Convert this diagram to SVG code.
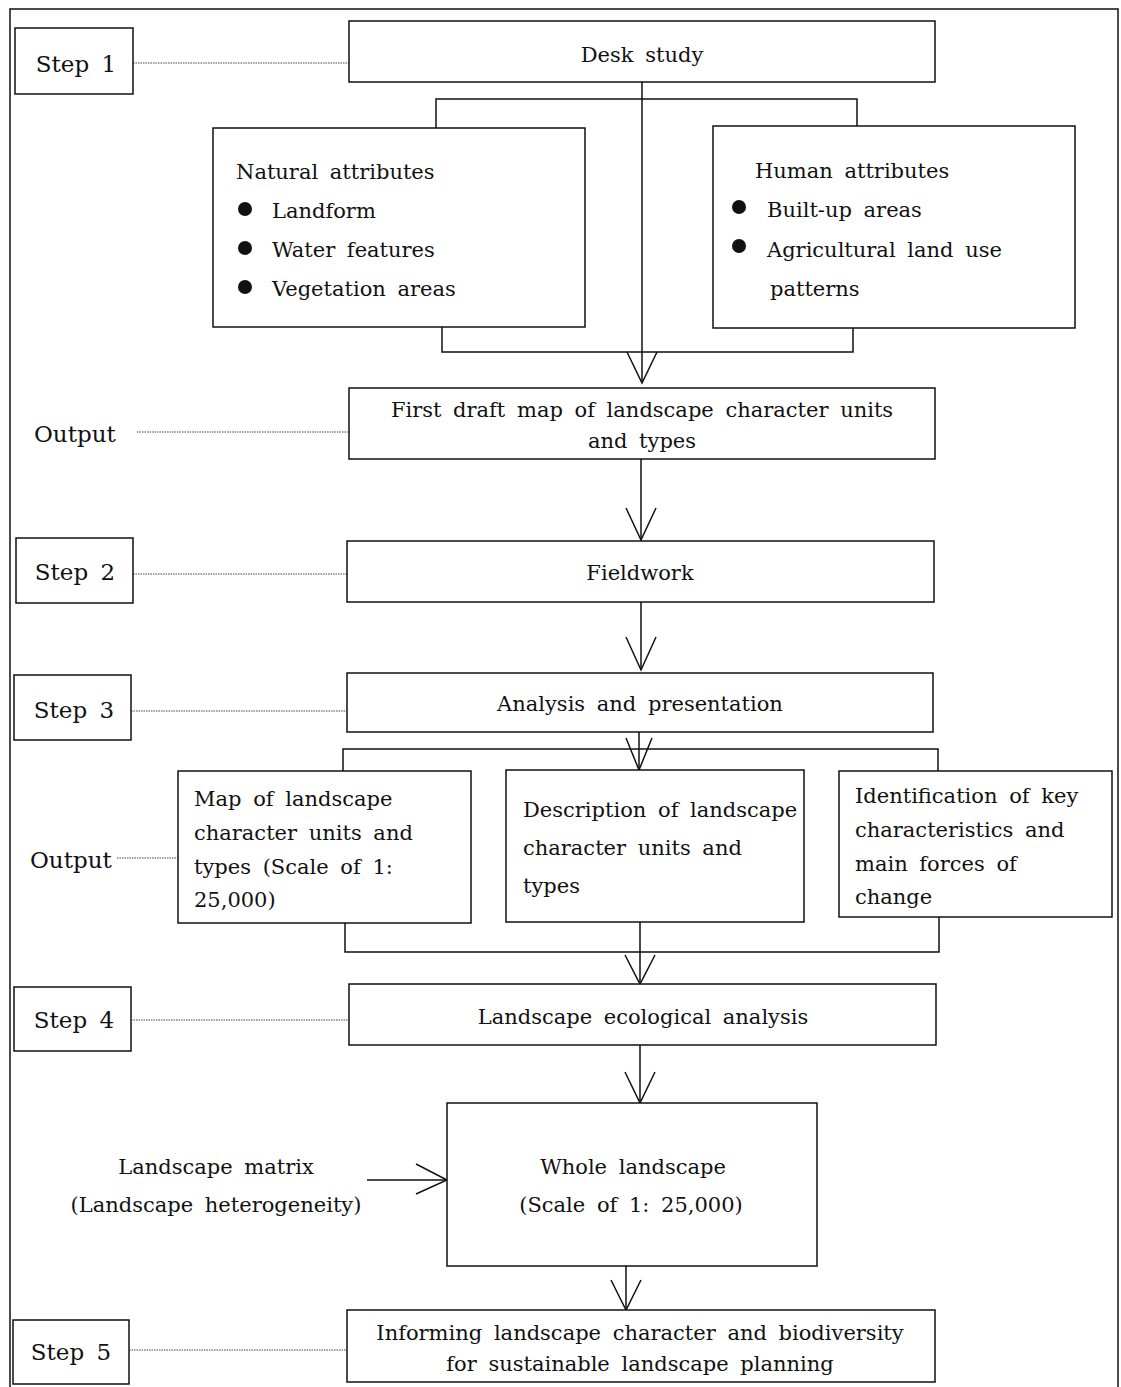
<svg xmlns="http://www.w3.org/2000/svg" width="1121" height="1387" viewBox="0 0 1121 1387">
<style>
text{font-family:"DejaVu Serif","Liberation Serif",serif;font-size:21px;fill:#111;word-spacing:5px}
.lbl{font-size:23px}
.c{text-anchor:middle}
.box{fill:#fff;stroke:#111;stroke-width:1.5}
.ln{fill:none;stroke:#111;stroke-width:1.5}
.dot{fill:none;stroke:#444;stroke-width:1;stroke-dasharray:1.5 1}
</style>
<rect width="1121" height="1387" fill="#fff"/>
<path class="ln" d="M10 1390 V9 H1118 V1390"/>
<g id="connectors">
<line class="dot" x1="133" y1="63" x2="349" y2="63"/>
<line class="dot" x1="137" y1="432" x2="349" y2="432"/>
<line class="dot" x1="133" y1="574" x2="347" y2="574"/>
<line class="dot" x1="131" y1="711" x2="347" y2="711"/>
<line class="dot" x1="117" y1="858" x2="178" y2="858"/>
<line class="dot" x1="131" y1="1020" x2="349" y2="1020"/>
<line class="dot" x1="129" y1="1350" x2="347" y2="1350"/>
<path class="ln" d="M642 82 V383"/>
<path class="ln" d="M436 128 V99 H857 V126"/>
<path class="ln" d="M442 327 V352 H853 V328"/>
<polyline class="ln" points="627,352 642,383 657,352"/>
<path class="ln" d="M641 459 V540"/>
<polyline class="ln" points="626,508 641,540 656,508"/>
<path class="ln" d="M641 602 V670"/>
<polyline class="ln" points="626,637 641,670 656,637"/>
<path class="ln" d="M639 732 V770"/>
<polyline class="ln" points="626,738 639,770 652,738"/>
<path class="ln" d="M343 771 V749 H938 V771"/>
<path class="ln" d="M345 923 V952 H939 V917"/>
<path class="ln" d="M640 922 V984"/>
<polyline class="ln" points="625,955 640,984 655,955"/>
<path class="ln" d="M640 1045 V1103"/>
<polyline class="ln" points="625,1072 640,1103 655,1072"/>
<path class="ln" d="M367 1180 H447"/>
<polyline class="ln" points="416,1164 447,1180 416,1194"/>
<path class="ln" d="M626 1266 V1310"/>
<polyline class="ln" points="611,1280 626,1310 641,1280"/>
</g>
<g id="step1"><rect class="box" x="15" y="28" width="118" height="66"/><text class="lbl c" x="76" y="72">Step 1</text></g>
<g id="desk"><rect class="box" x="349" y="21" width="586" height="61"/><text class="c" x="642" y="62">Desk study</text></g>
<g id="natural"><rect class="box" x="213" y="128" width="372" height="199"/>
<text x="236" y="179">Natural attributes</text>
<circle cx="245" cy="209" r="7" fill="#111"/><text x="272" y="218">Landform</text>
<circle cx="245" cy="248" r="7" fill="#111"/><text x="272" y="257">Water features</text>
<circle cx="245" cy="287" r="7" fill="#111"/><text x="272" y="296">Vegetation areas</text></g>
<g id="human"><rect class="box" x="713" y="126" width="362" height="202"/>
<text x="755" y="178">Human attributes</text>
<circle cx="739" cy="207" r="7" fill="#111"/><text x="767" y="217">Built-up areas</text>
<circle cx="739" cy="246" r="7" fill="#111"/><text x="767" y="257">Agricultural land use</text>
<text x="770" y="296">patterns</text></g>
<g id="output1"><text class="lbl" x="34" y="442">Output</text></g>
<g id="draft"><rect class="box" x="349" y="388" width="586" height="71"/>
<text class="c" x="642" y="417">First draft map of landscape character units</text>
<text class="c" x="642" y="448">and types</text></g>
<g id="step2"><rect class="box" x="16" y="538" width="117" height="65"/><text class="lbl c" x="75" y="580">Step 2</text></g>
<g id="fieldwork"><rect class="box" x="347" y="541" width="587" height="61"/><text class="c" x="640" y="580">Fieldwork</text></g>
<g id="step3"><rect class="box" x="14" y="675" width="117" height="65"/><text class="lbl c" x="74" y="718">Step 3</text></g>
<g id="analysis"><rect class="box" x="347" y="673" width="586" height="59"/><text class="c" x="640" y="711">Analysis and presentation</text></g>
<g id="output2"><text class="lbl" x="30" y="868">Output</text></g>
<g id="map"><rect class="box" x="178" y="771" width="293" height="152"/>
<text x="194" y="806">Map of landscape</text>
<text x="194" y="840">character units and</text>
<text x="194" y="874">types (Scale of 1:</text>
<text x="194" y="907">25,000)</text></g>
<g id="description"><rect class="box" x="506" y="770" width="298" height="152"/>
<text x="523" y="817">Description of landscape</text>
<text x="523" y="855">character units and</text>
<text x="523" y="893">types</text></g>
<g id="identification"><rect class="box" x="839" y="771" width="273" height="146"/>
<text x="855" y="803">Identification of key</text>
<text x="855" y="837">characteristics and</text>
<text x="855" y="871">main forces of</text>
<text x="855" y="904">change</text></g>
<g id="step4"><rect class="box" x="14" y="987" width="117" height="64"/><text class="lbl c" x="74" y="1028">Step 4</text></g>
<g id="ecological"><rect class="box" x="349" y="984" width="587" height="61"/><text class="c" x="643" y="1024">Landscape ecological analysis</text></g>
<g id="matrix"><text class="c" x="216" y="1174">Landscape matrix</text><text class="c" x="216" y="1212">(Landscape heterogeneity)</text></g>
<g id="whole"><rect class="box" x="447" y="1103" width="370" height="163"/>
<text class="c" x="633" y="1174">Whole landscape</text>
<text class="c" x="631" y="1212">(Scale of 1: 25,000)</text></g>
<g id="informing"><rect class="box" x="347" y="1310" width="588" height="72"/>
<text class="c" x="640" y="1340">Informing landscape character and biodiversity</text>
<text class="c" x="640" y="1371">for sustainable landscape planning</text></g>
<g id="step5"><rect class="box" x="13" y="1320" width="116" height="64"/><text class="lbl c" x="71" y="1360">Step 5</text></g>
</svg>
